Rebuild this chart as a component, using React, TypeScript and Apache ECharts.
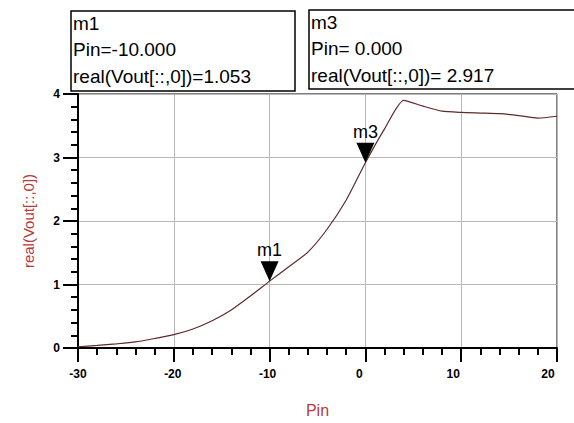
import React, { useEffect, useRef } from "react";
import * as echarts from "echarts";

const pin = [-30, -28, -26, -24, -22, -20, -18, -16, -14, -12, -10, -8, -6, -4, -2, 0, 2, 4, 6, 8, 10, 12, 14, 16, 18, 20];
const vout = [0.02, 0.04, 0.065, 0.095, 0.15, 0.21, 0.3, 0.43, 0.6, 0.82, 1.053, 1.28, 1.51, 1.87, 2.33, 2.917, 3.45, 3.9, 3.81, 3.73, 3.71, 3.7, 3.69, 3.66, 3.62, 3.65];

const markerNames = ["m1", "m3"];
const markerPin = [-10, 0];
const markerVout = [1.053, 2.917];

const xTicks = [-30, -20, -10, 0, 10, 20];
const yTicks = [0, 1, 2, 3, 4];

const lineColor = "#5e2a2a";
const nameColor = "#b83a3a";

function fmt(v: number, withSpace: boolean) {
  const s = v.toFixed(3);
  return withSpace && v >= 0 ? " " + s : s;
}

export default function App() {
  const ref = useRef<HTMLDivElement>(null);
  useEffect(() => {
    if (!ref.current) return;
    const chart = echarts.init(ref.current, null, { renderer: "svg" });
    const data = pin.map((p, i) => [p, vout[i]]);
    const xShift: Record<string, number> = { "-30": 0, "-20": 1, "-10": 2, "0": 6, "10": 8, "20": 9 };
    const rich: Record<string, any> = {};
    xTicks.forEach((t, i) => {
      rich["x" + i] = {
        fontSize: 12,
        fontWeight: "bold",
        fontFamily: "Arial, Liberation Sans, sans-serif",
        color: "#000",
        padding: [0, 2 * (xShift[String(t)] || 0), 0, 0],
      };
    });
    const boxes = markerNames.map((name, i) => {
      const bx = i === 0 ? 71 : 309;
      const by = i === 0 ? 11 : 10;
      const bw = i === 0 ? 224 : 280;
      const bh = i === 0 ? 80 : 79;
      const lines = [
        name,
        "Pin=" + fmt(markerPin[i], i !== 0),
        "real(Vout[::,0])=" + fmt(markerVout[i], i !== 0),
      ];
      return {
        type: "group",
        children: [
          {
            type: "rect",
            shape: { x: bx, y: by, width: bw, height: bh },
            style: { fill: "#fff", stroke: "#000", lineWidth: 1.5 },
          },
          ...lines.map((l, k) => ({
            type: "text",
            x: bx + 2,
            y: by + 12 + k * 26.5,
            style: {
              text: l,
              fill: "#000",
              font: "19px Arial, 'Liberation Sans', sans-serif",
              verticalAlign: "middle",
              align: "left",
            },
          })),
        ],
      };
    });
    chart.setOption({
      animation: false,
      backgroundColor: "#fff",
      grid: {
        left: 78,
        right: 17,
        top: 94,
        bottom: 72,
        show: true,
        borderColor: "#000",
        borderWidth: 1,
        backgroundColor: "transparent",
      },
      xAxis: {
        type: "value",
        min: -30,
        max: 20,
        interval: 10,
        name: "Pin",
        nameLocation: "middle",
        nameGap: 54,
        nameTextStyle: { color: nameColor, fontSize: 16, fontFamily: "Arial, Liberation Sans, sans-serif" },
        axisLine: { show: true, onZero: false, lineStyle: { color: "#000", width: 2 } },
        axisTick: { show: true, length: 14, lineStyle: { color: "#000", width: 2 } },
        minorTick: { show: true, splitNumber: 5, length: 7, lineStyle: { color: "#000", width: 2 } },
        splitLine: { show: true, lineStyle: { color: "#b8b8b8", width: 1 } },
        axisLabel: {
          margin: 20,
          formatter: (v: number) => {
            const i = xTicks.indexOf(v);
            return i >= 0 ? `{x${i}|${v}}` : "";
          },
          rich,
        },
      },
      yAxis: {
        type: "value",
        min: 0,
        max: 4,
        interval: 1,
        name: "real(Vout[::,0])",
        nameLocation: "middle",
        nameGap: 42,
        nameTextStyle: { color: nameColor, fontSize: 15, fontFamily: "Arial, Liberation Sans, sans-serif" },
        axisLine: { show: true, onZero: false, lineStyle: { color: "#000", width: 2 } },
        axisTick: { show: true, length: 15, lineStyle: { color: "#000", width: 2 } },
        minorTick: { show: true, splitNumber: 5, length: 7, lineStyle: { color: "#000", width: 2 } },
        splitLine: { show: true, lineStyle: { color: "#b8b8b8", width: 1 } },
        axisLabel: {
          margin: 18,
          fontSize: 12,
          fontWeight: "bold",
          color: "#000",
          fontFamily: "Arial, Liberation Sans, sans-serif",
          formatter: (v: number) => (yTicks.indexOf(v) >= 0 ? String(v) : ""),
        },
      },
      series: [
        {
          type: "line",
          data,
          showSymbol: false,
          symbol: "none",
          smooth: 0.2,
          lineStyle: { color: lineColor, width: 1.2 },
          markPoint: {
            symbol: "path://M0,0 L18,0 L9,20 Z",
            symbolSize: [18, 20],
            symbolOffset: [0, -10],
            itemStyle: { color: "#000" },
            label: {
              show: true,
              position: "top",
              distance: 2,
              color: "#000",
              fontSize: 18,
              fontFamily: "Arial, Liberation Sans, sans-serif",
              formatter: (p: any) => p.name,
            },
            data: markerNames.map((n, i) => ({ name: n, coord: [markerPin[i], markerVout[i]] })),
          },
        },
      ],
      graphic: boxes,
    });
    return () => chart.dispose();
  }, []);
  return <div ref={ref} style={{ width: 574, height: 423, position: "absolute", left: 0, top: 0 }} />;
}
